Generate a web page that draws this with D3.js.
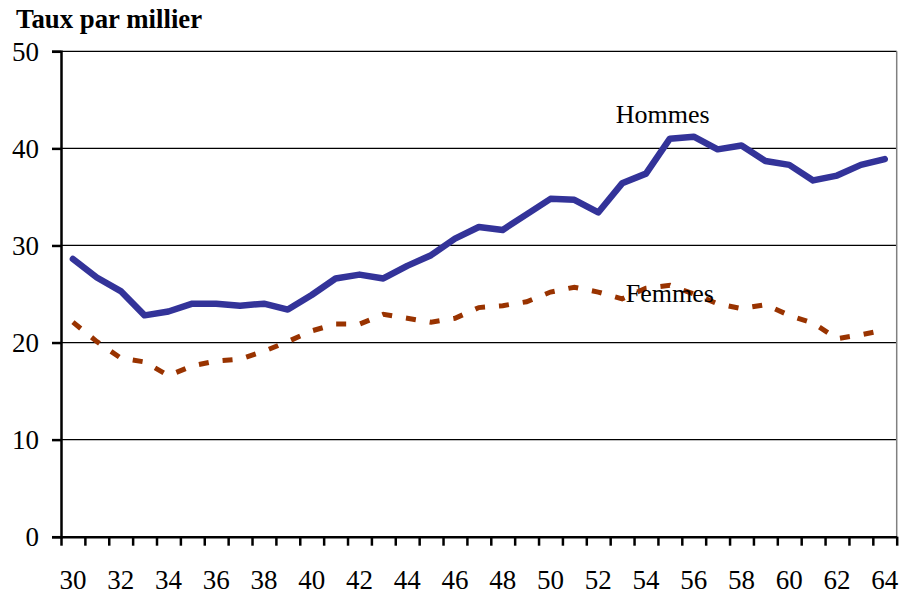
<!DOCTYPE html>
<html>
<head>
<meta charset="utf-8">
<script src="https://cdn.jsdelivr.net/npm/d3@7"></script>
<style>
  body { margin: 0; background: #fff; }
  svg text { font-family: "Liberation Serif", "Times New Roman", serif; }
</style>
</head>
<body>
<div id="chart"></div>
<script>
// data
const ages = d3.range(30, 65)
const hommes = [28.6, 26.7, 25.3, 22.8, 23.2, 24.0, 24.0, 23.8, 24.0, 23.4,
  24.9, 26.6, 27.0, 26.6, 27.9, 29.0, 30.7, 31.9, 31.6, 33.2,
  34.8, 34.7, 33.4, 36.4, 37.4, 41.0, 41.2, 39.9, 40.3, 38.7,
  38.3, 36.7, 37.2, 38.3, 38.9]
const femmes = [22.1, 20.1, 18.4, 18.0, 16.6, 17.6, 18.1, 18.3, 19.1, 20.1,
  21.2, 21.9, 21.9, 22.9, 22.5, 22.1, 22.5, 23.6, 23.8, 24.2,
  25.2, 25.7, 25.2, 24.5, 25.6, 25.9, 25.0, 24.0, 23.5, 23.9,
  22.8, 22.0, 20.4, 20.8, 21.3]
const yTicks = [0, 10, 20, 30, 40, 50]
const xTickLabels = d3.range(30, 65, 2)
const labels = [
  {text: "Hommes", age: 54.7, value: 42.6},
  {text: "Femmes", age: 55.0, value: 24.2}
]

const serif = "'Liberation Serif', 'Times New Roman', serif"
const width = 903
const height = 594
const margin = {top: 51.3, right: 6.3, bottom: 57.3, left: 61}
const w = width - margin.left - margin.right
const h = height - margin.top - margin.bottom

const svg = d3.select("#chart").append("svg")
  .attr("width", width)
  .attr("height", height)

svg.append("text")
  .attr("x", 16)
  .attr("y", 28)
  .attr("font-family", serif)
  .attr("font-size", 26.8)
  .attr("font-weight", "bold")
  .text("Taux par millier")

const g = svg.append("g")
  .attr("transform", "translate(" + margin.left + "," + margin.top + ")")

const x = d3.scaleLinear().domain([29.5, 64.5]).range([0, w])
const y = d3.scaleLinear().domain([0, 50]).range([h, 0])

// grid lines
g.append("g")
  .selectAll("line")
  .data(yTicks.filter(d => d > 0))
  .join("line")
  .attr("x1", 0)
  .attr("x2", w)
  .attr("y1", d => y(d))
  .attr("y2", d => y(d))
  .attr("stroke", "#000")
  .attr("stroke-width", 1.3)

// right border of plot area
g.append("line")
  .attr("x1", w).attr("x2", w)
  .attr("y1", 0).attr("y2", h)
  .attr("stroke", "#808080")
  .attr("stroke-width", 1.5)

// y axis
const yAxis = g.append("g")
  .call(d3.axisLeft(y).tickValues(yTicks).tickSize(9).tickPadding(13))
  .attr("font-family", serif)
yAxis.select(".domain").attr("stroke-width", 2.5)
yAxis.selectAll(".tick line").attr("stroke-width", 2.5)
yAxis.selectAll("text")
  .attr("font-size", 27)
  .attr("fill", "#000")
  .attr("font-family", serif)
  .attr("dy", "0.33em")

// x axis: ticks between categories, labels every two years
const xAxis = g.append("g")
  .attr("transform", "translate(0," + h + ")")
  .call(d3.axisBottom(x).tickValues(d3.range(29.5, 65, 1)).tickSize(9).tickSizeOuter(0).tickFormat(""))
xAxis.select(".domain").attr("stroke-width", 2.5)
xAxis.selectAll(".tick line").attr("stroke-width", 2.5)

g.append("g")
  .selectAll("text")
  .data(xTickLabels)
  .join("text")
  .attr("x", d => x(d))
  .attr("y", h + 52)
  .attr("text-anchor", "middle")
  .attr("font-family", serif)
  .attr("font-size", 27)
  .text(d => d)

const line = d3.line()
  .defined(d => d[1] != null)
  .x(d => x(d[0]))
  .y(d => y(d[1]))

g.append("path")
  .datum(ages.map((a, i) => [a, femmes[i]]))
  .attr("d", line)
  .attr("fill", "none")
  .attr("stroke", "#993300")
  .attr("stroke-width", 5)
  .attr("stroke-dasharray", "10,14")

g.append("path")
  .datum(ages.map((a, i) => [a, hommes[i]]))
  .attr("d", line)
  .attr("fill", "none")
  .attr("stroke", "#333399")
  .attr("stroke-width", 6.5)
  .attr("stroke-linejoin", "round")
  .attr("stroke-linecap", "round")

g.append("g")
  .selectAll("text")
  .data(labels)
  .join("text")
  .attr("x", d => x(d.age))
  .attr("y", d => y(d.value))
  .attr("text-anchor", "middle")
  .attr("font-family", serif)
  .attr("font-size", 26)
  .text(d => d.text)
</script>
</body>
</html>
